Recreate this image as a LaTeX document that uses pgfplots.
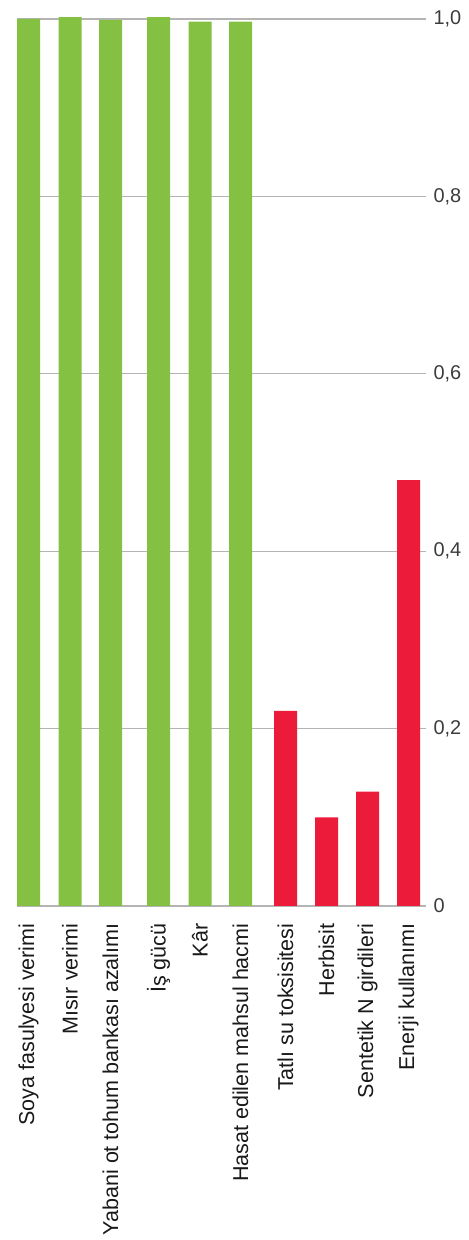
\documentclass[border=0pt]{standalone}
\usepackage{fontspec}
\setmainfont{Liberation Sans}
\usepackage{pgfplots}
\pgfplotsset{compat=1.18}
\definecolor{bargreen}{RGB}{132,193,66}
\definecolor{barred}{RGB}{237,27,58}
\definecolor{gridgray}{RGB}{180,180,180}
\definecolor{ticktext}{RGB}{60,60,60}
\begin{document}
\begin{tikzpicture}[x=1bp,y=1bp]
\begin{axis}[
  at={(17bp,334bp)}, anchor=south west,
  width=409bp, height=887bp, scale only axis,
  xmin=17, xmax=426, ymin=0, ymax=1,
  axis line style={draw=none},
  clip=false,
  ytick={0,0.2,0.4,0.6,0.8,1.0},
  yticklabels={0,{0,2},{0,4},{0,6},{0,8},{1,0}},
  yticklabel pos=right,
  ymajorgrids, grid style={gridgray, line width=1.2bp},
  major tick length=0pt,
  yticklabel style={font=\fontsize{20}{23}\selectfont, text=ticktext, xshift=4bp},
  xtick={28.5,70,110.5,158.5,200,240.5,285.5,326.5,367.5,408.5},
  xticklabels={Soya fasulyesi verimi,Mısır verimi,Yabani ot tohum bankası azalımı,İş gücü,Kâr,Hasat edilen mahsul hacmi,Tatlı su toksisitesi,Herbisit,Sentetik N girdileri,Enerji kullanımı},
  xticklabel style={rotate=90, anchor=east, font=\fontsize{21.6}{24}\selectfont, text=black!90, xshift=-14bp},
  ybar, bar width=23bp, bar shift=0pt,
]
\addplot[fill=bargreen, draw=none] coordinates {(28.5,1.0) (70,1.002) (110.5,0.999) (158.5,1.002) (200,0.997) (240.5,0.997)};
\addplot[fill=barred, draw=none] coordinates {(285.5,0.22) (326.5,0.10) (367.5,0.129) (408.5,0.48)};
\end{axis}
\pgfresetboundingbox
\path[use as bounding box] (0,0) rectangle (469bp,1240bp);
\end{tikzpicture}
\end{document}
